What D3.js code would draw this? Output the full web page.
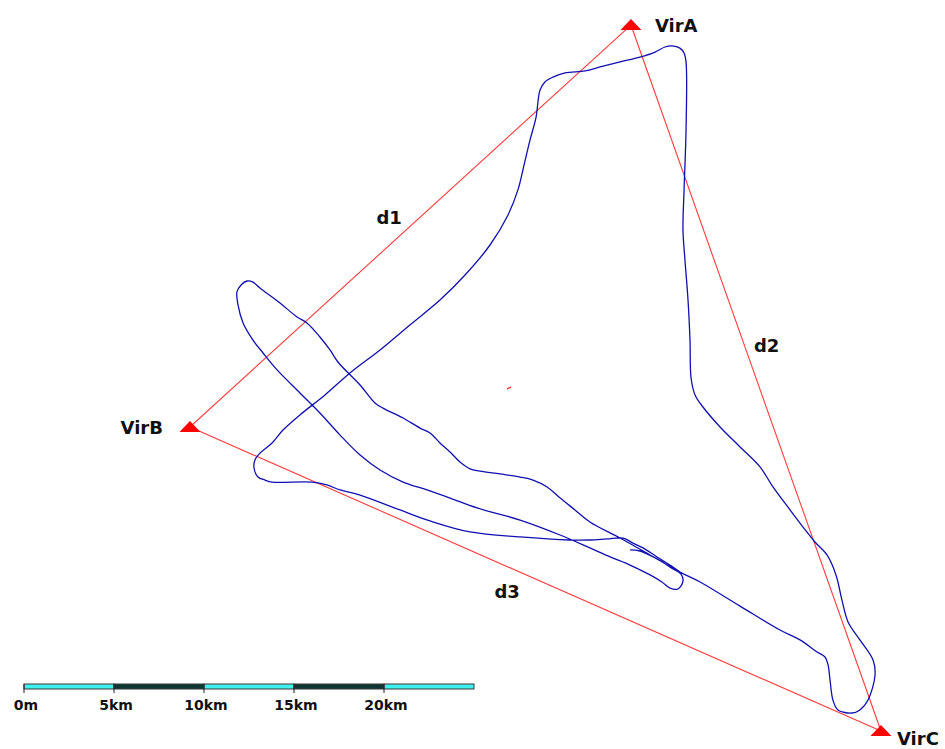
<!DOCTYPE html>
<html>
<head>
<meta charset="utf-8">
<script src="https://cdn.jsdelivr.net/npm/d3@7"></script>
<style>
  html, body { margin: 0; padding: 0; background: #fff; }
  text { font-family: "DejaVu Sans", Verdana, sans-serif; font-weight: bold; fill: #111; }
</style>
</head>
<body>
<svg id="map" width="945" height="749"></svg>
<script>
// map coordinates in km (east, north) from the scale bar origin
const stationNames = ["VirA", "VirB", "VirC"];
const stationEast = [33.72, 9.22, 47.61];
const stationNorth = [36.72, 14.39, -2.5];

const baselineNames = ["d1", "d2", "d3"];
const baselineFrom = [1, 0, 1];
const baselineTo = [0, 2, 2];

// flight track (km)
const trackEast = [33.67, 34.22, 35.17, 36.06, 36.50, 36.61, 36.33, 35.89, 35.44, 34.78,
  33.67, 32.56, 31.44, 29.78, 27.56, 25.17, 23.67, 22.39, 21.06, 19.78,
  18.67, 17.56, 16.44, 15.33, 14.06, 13.28, 12.72, 12.17, 11.89, 11.83,
  12.06, 12.39, 12.72, 13.11, 14.22, 15.17, 15.72, 16.44, 17.00, 17.44,
  18.67, 19.50, 19.94, 21.06, 22.00, 22.56, 23.11, 23.67, 24.22, 24.78,
  25.33, 26.44, 27.56, 28.28, 29.06, 29.72, 30.61, 31.44, 33.11, 34.78,
  36.44, 37.56, 39.78, 42.00, 43.11, 44.06, 44.50, 44.67, 44.78, 44.94,
  45.22, 46.00, 46.44, 46.89, 47.28, 47.17, 46.44, 45.78, 45.44, 45.11,
  44.61, 43.94, 43.28, 42.56, 41.61, 40.89, 39.78, 38.67, 37.72, 37.28,
  37.06, 37.00, 36.89, 36.72, 36.61, 36.67, 36.78, 36.78, 36.67, 36.44,
  36.00, 35.61, 35.06, 34.22, 33.11, 32.00, 31.17, 30.06, 29.39, 28.94,
  28.67, 28.44, 28.11, 27.78, 27.44, 26.89, 25.89, 24.50, 23.11, 21.44,
  19.78, 18.11, 16.72, 15.33, 14.39, 13.78, 13.11, 12.83, 12.78, 13.00,
  13.39, 13.78, 16.00, 16.83, 17.56, 18.67, 20.89, 22.56, 24.78, 27.56,
  30.33, 31.44, 32.39, 33.28, 33.83, 34.39, 35.17, 35.89, 36.44];
const trackNorth = [7.56, 7.50, 7.06, 6.50, 6.22, 5.83, 5.39, 5.44, 5.78, 6.17,
  6.72, 7.17, 7.67, 8.39, 9.22, 9.89, 10.44, 10.89, 11.33, 12.00,
  12.83, 13.94, 15.17, 16.28, 17.56, 18.50, 19.22, 20.17, 21.17, 21.89,
  22.28, 22.50, 22.44, 22.11, 21.28, 20.50, 20.17, 19.39, 18.67, 18.00,
  16.72, 15.72, 15.44, 14.89, 14.33, 14.06, 13.50, 13.00, 12.44, 12.06,
  11.94, 11.78, 11.61, 11.44, 11.06, 10.50, 9.78, 9.11, 8.22, 7.28,
  6.33, 5.78, 4.44, 3.11, 2.56, 1.89, 1.61, 1.17, 0.33, -0.78,
  -1.33, -1.50, -1.33, -0.78, 0.61, 1.44, 2.56, 3.56, 4.78, 6.17,
  7.28, 8.00, 8.83, 9.78, 11.06, 12.17, 13.28, 14.39, 15.50, 16.17,
  17.11, 19.22, 21.44, 23.67, 25.33, 27.56, 30.89, 34.67, 35.17, 35.44,
  35.56, 35.50, 35.22, 34.94, 34.67, 34.39, 34.17, 34.06, 33.83, 33.56,
  33.11, 31.56, 30.33, 28.94, 27.56, 26.17, 24.50, 22.83, 21.44, 20.06,
  18.67, 17.39, 16.17, 15.06, 14.22, 13.50, 12.94, 12.56, 12.11, 11.61,
  11.44, 11.33, 11.33, 11.17, 10.89, 10.61, 9.78, 9.17, 8.56, 8.28,
  8.11, 8.11, 8.17, 8.22, 7.94, 7.67, 7.17, 6.72, 6.33];

// small red mark near the centre
const markEast = [26.83, 27.06];
const markNorth = [16.50, 16.61];

// scale bar
const scaleStops = [0, 5, 10, 15, 20, 25];
const scaleLabels = ["0m", "5km", "10km", "15km", "20km"];

const svg = d3.select("#map");

const x = d3.scaleLinear().domain([0, 25]).range([24, 474]);
const y = d3.scaleLinear().domain([0, 38]).range([686, 2]);

const stations = stationNames.map((n, i) => ({ name: n, e: stationEast[i], n: stationNorth[i] }));
const track = trackEast.map((e, i) => [e, trackNorth[i]]);

// baselines between the stations
const baseG = svg.append("g");
baselineNames.forEach((name, i) => {
  const a = stations[baselineFrom[i]], b = stations[baselineTo[i]];
  baseG.append("line")
    .attr("x1", x(a.e)).attr("y1", y(a.n))
    .attr("x2", x(b.e)).attr("y2", y(b.n))
    .attr("stroke", "#ff3b3b")
    .attr("stroke-width", 1.1);
});

// flight path
const line = d3.line()
  .x(d => x(d[0]))
  .y(d => y(d[1]))
  .curve(d3.curveCatmullRom.alpha(0.5));

svg.append("path")
  .datum(track)
  .attr("d", line)
  .attr("fill", "none")
  .attr("stroke", "#1010b0")
  .attr("stroke-width", 1.3)
  .attr("stroke-linejoin", "round");

svg.append("line")
  .attr("x1", x(markEast[0])).attr("y1", y(markNorth[0]))
  .attr("x2", x(markEast[1])).attr("y2", y(markNorth[1]))
  .attr("stroke", "#ff4040")
  .attr("stroke-width", 1.5);

// station triangles
svg.selectAll("path.station")
  .data(stations)
  .enter()
  .append("path")
  .attr("class", "station")
  .attr("d", "M0,-6 L10.5,5 L-10.5,5 Z")
  .attr("transform", d => "translate(" + x(d.e) + "," + y(d.n) + ")")
  .attr("fill", "#ff0000");

// station labels
const labelPos = {
  VirA: { dx: 24, dy: 7, anchor: "start" },
  VirB: { dx: -27, dy: 7, anchor: "end" },
  VirC: { dx: 16, dy: 14, anchor: "start" }
};
svg.selectAll("text.station")
  .data(stations)
  .enter()
  .append("text")
  .attr("class", "station")
  .attr("x", d => x(d.e) + labelPos[d.name].dx)
  .attr("y", d => y(d.n) + labelPos[d.name].dy)
  .attr("text-anchor", d => labelPos[d.name].anchor)
  .style("font-size", "18px")
  .text(d => d.name);

// baseline labels
const dPos = [{ dx: -34, dy: -2 }, { dx: -2, dy: -26 }, { dx: -41, dy: 19 }];
baselineNames.forEach((name, i) => {
  const a = stations[baselineFrom[i]], b = stations[baselineTo[i]];
  const mx = (x(a.e) + x(b.e)) / 2, my = (y(a.n) + y(b.n)) / 2;
  svg.append("text")
    .attr("x", mx + dPos[i].dx)
    .attr("y", my + dPos[i].dy)
    .style("font-size", "18px")
    .text(name);
});

// scale bar
const barTop = 684, barH = 5;
const scaleG = svg.append("g");
scaleStops.slice(0, -1).forEach((s, i) => {
  scaleG.append("rect")
    .attr("x", x(s))
    .attr("y", barTop)
    .attr("width", x(scaleStops[i + 1]) - x(s))
    .attr("height", barH)
    .attr("fill", i % 2 === 0 ? "#3ff0ec" : "#0e3634")
    .attr("stroke", "#3a3a3a")
    .attr("stroke-width", 1);
});
scaleLabels.forEach((lab, i) => {
  const s = scaleStops[i];
  scaleG.append("line")
    .attr("x1", x(s)).attr("x2", x(s))
    .attr("y1", barTop).attr("y2", barTop + 9)
    .attr("stroke", "#222")
    .attr("stroke-width", 1);
  scaleG.append("text")
    .attr("x", x(s) + 2)
    .attr("y", 710)
    .attr("text-anchor", "middle")
    .style("font-size", "14px")
    .text(lab);
});
</script>
</body>
</html>
